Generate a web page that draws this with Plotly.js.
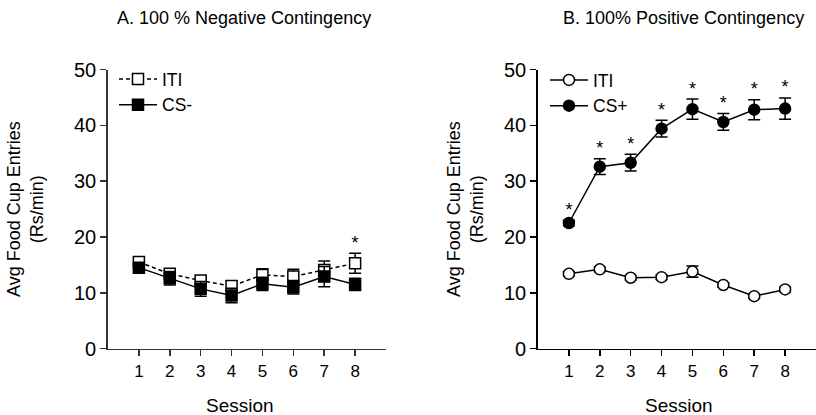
<!DOCTYPE html>
<html>
<head>
<meta charset="utf-8">
<script src="https://cdn.plot.ly/plotly-3.0.1.min.js"></script>
<style>
  html, body { margin: 0; padding: 0; background: #ffffff; }
  #chart { width: 816px; height: 415px; }
</style>
</head>
<body>
<div id="chart"></div>
<script>
// Sessions shown on both panels
const sessions = [1, 2, 3, 4, 5, 6, 7, 8];
const sessionTicks = ['1', '2', '3', '4', '5', '6', '7', '8'];

// A. 100 % negative contingency (mean ± SEM, responses per minute)
const negITI    = [15.5, 13.4, 12.2, 11.2, 13.2, 12.9, 14.1, 15.3];
const negITIerr = [0.6, 0.6, 0.7, 0.9, 1.1, 1.3, 1.6, 1.8];
const negCS     = [14.5, 12.6, 10.7, 9.5, 11.6, 11.0, 12.9, 11.5];
const negCSerr  = [0.6, 1.2, 1.3, 1.3, 1.2, 1.2, 1.8, 1.1];
const negStarSessions = [8];          // marked above the ITI series

// B. 100 % positive contingency
const posITI    = [13.4, 14.2, 12.7, 12.8, 13.8, 11.4, 9.4, 10.6];
const posITIerr = [0.4, 0.4, 0.4, 0.4, 1.0, 0.4, 0.4, 0.4];
const posCS     = [22.5, 32.6, 33.3, 39.4, 42.9, 40.6, 42.8, 43.0];
const posCSerr  = [0.5, 1.4, 1.5, 1.5, 1.8, 1.5, 1.8, 1.9];
const posStarSessions = [1, 2, 3, 4, 5, 6, 7, 8];  // marked above the CS+ series

const FONT = 'Arial, "Liberation Sans", sans-serif';

function starTrace(starSessions, means, errs, xa, ya) {
  const ys = starSessions.map(s => means[s - 1] + errs[s - 1]);
  return {
    x: starSessions, y: ys, xaxis: xa, yaxis: ya,
    mode: 'text', text: starSessions.map(() => '*'),
    textposition: 'top center',
    textfont: { family: FONT, size: 18, color: '#000' },
    showlegend: false, hoverinfo: 'skip', cliponaxis: false
  };
}

function errBar(arr) {
  return { type: 'data', array: arr, visible: true, color: '#000', thickness: 1.5, width: 6 };
}

const traces = [
  {
    name: 'ITI', x: sessions, y: negITI, xaxis: 'x', yaxis: 'y',
    mode: 'lines+markers', legend: 'legend',
    line: { color: '#000', width: 1.5, dash: '4px,3px' },
    marker: { symbol: 'square', size: 11, color: '#fff', line: { color: '#000', width: 1.5 } },
    error_y: errBar(negITIerr), cliponaxis: false
  },
  {
    name: 'CS-', x: sessions, y: negCS, xaxis: 'x', yaxis: 'y',
    mode: 'lines+markers', legend: 'legend',
    line: { color: '#000', width: 1.5 },
    marker: { symbol: 'square', size: 11, color: '#000', line: { color: '#000', width: 1.5 } },
    error_y: errBar(negCSerr), cliponaxis: false
  },
  starTrace(negStarSessions, negITI, negITIerr, 'x', 'y'),
  {
    name: 'ITI', x: sessions, y: posITI, xaxis: 'x2', yaxis: 'y2',
    mode: 'lines+markers', legend: 'legend2',
    line: { color: '#000', width: 1.5 },
    marker: { symbol: 'circle', size: 11, color: '#fff', line: { color: '#000', width: 1.5 } },
    error_y: errBar(posITIerr), cliponaxis: false
  },
  {
    name: 'CS+', x: sessions, y: posCS, xaxis: 'x2', yaxis: 'y2',
    mode: 'lines+markers', legend: 'legend2',
    line: { color: '#000', width: 1.5 },
    marker: { symbol: 'circle', size: 11, color: '#000', line: { color: '#000', width: 1.5 } },
    error_y: errBar(posCSerr), cliponaxis: false
  },
  starTrace(posStarSessions, posCS, posCSerr, 'x2', 'y2')
];

const yDom = [0.16, 0.8325];

function xAxis(domain, anchor, lineColor) {
  return {
    domain: domain, anchor: anchor, range: [0, 9],
    tickvals: sessions, ticktext: sessionTicks,
    ticks: 'outside', ticklen: 6, tickwidth: 1.5, tickcolor: lineColor,
    showline: true, linecolor: lineColor, linewidth: 1.8,
    showgrid: false, zeroline: false, fixedrange: true,
    tickfont: { family: FONT, size: 17, color: '#000' }
  };
}
function yAxis(anchor, lineColor) {
  return {
    domain: yDom, anchor: anchor, range: [0, 50],
    tickvals: [0, 10, 20, 30, 40, 50],
    ticks: 'outside', ticklen: 6, tickwidth: 1.5, tickcolor: lineColor,
    showline: true, linecolor: lineColor, linewidth: 1.8,
    showgrid: false, zeroline: false, fixedrange: true,
    tickfont: { family: FONT, size: 20, color: '#000' }
  };
}

const legendBase = {
  bgcolor: 'rgba(0,0,0,0)', borderwidth: 0,
  font: { family: FONT, size: 17.5, color: '#000' },
  xanchor: 'left', yanchor: 'top', tracegroupgap: 0, itemwidth: 38
};

function paperText(text, px, py, size, extra) {
  return Object.assign({
    text: text, x: px / 816, y: 1 - py / 415,
    xref: 'paper', yref: 'paper', xanchor: 'center', yanchor: 'middle',
    showarrow: false, font: { family: FONT, size: size, color: '#000' }
  }, extra || {});
}

const layout = {
  width: 816, height: 415,
  margin: { l: 0, r: 0, t: 0, b: 0 },
  paper_bgcolor: '#fff', plot_bgcolor: '#fff',
  font: { family: FONT, color: '#000' },
  xaxis: xAxis([108 / 816, 386 / 816], 'y', '#333'),
  yaxis: yAxis('x', '#333'),
  xaxis2: xAxis([538 / 816, 1.0], 'y2', '#000'),
  yaxis2: yAxis('x2', '#000'),
  legend: Object.assign({}, legendBase, { x: 114 / 816, y: 1 - 61 / 415 }),
  legend2: Object.assign({}, legendBase, { x: 545 / 816, y: 1 - 62 / 415 }),
  annotations: [
    paperText('A. 100 % Negative Contingency', 244, 18, 18),
    paperText('B. 100% Positive Contingency', 683, 18, 18),
    paperText('Session', 240, 405, 19),
    paperText('Session', 679, 405, 19),
    paperText('Avg Food Cup Entries<br>(Rs/min)', 25, 209, 18, { textangle: -90 }),
    paperText('Avg Food Cup Entries<br>(Rs/min)', 465, 209, 18, { textangle: -90 })
  ]
};

Plotly.newPlot('chart', traces, layout, { staticPlot: true, displayModeBar: false });
</script>
</body>
</html>
